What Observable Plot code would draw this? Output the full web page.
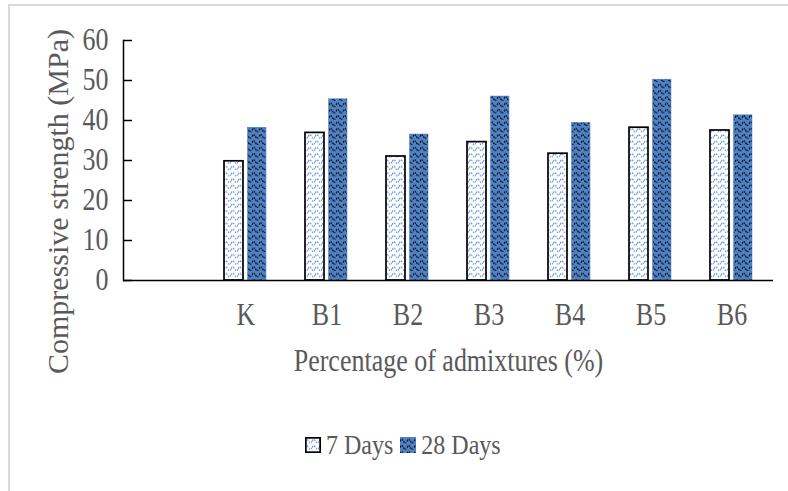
<!DOCTYPE html>
<html><head><meta charset="utf-8">
<script src="https://cdn.jsdelivr.net/npm/d3@7"></script>
<script src="https://cdn.jsdelivr.net/npm/@observablehq/plot@0.6"></script>
<style>
html,body{margin:0;padding:0;background:#fff;}
#wrap{position:relative;width:788px;height:491px;overflow:hidden;font-family:"Liberation Serif",serif;color:#595959;}
#bl{position:absolute;left:8px;top:4px;width:2px;bottom:0;background:#d9d9d9;}
#bt{position:absolute;left:8px;top:4px;height:2px;right:0;background:#d9d9d9;}
#chart{position:absolute;left:0;top:0;}
#legend{position:absolute;left:305px;top:431px;display:flex;align-items:center;font-size:24px;white-space:nowrap;line-height:28px;}
#legend svg{margin-right:5px;}
#legend span{margin-right:7px;display:inline-block;transform:scaleY(1.15);}
</style></head>
<body>
<svg width="0" height="0" style="position:absolute"><defs>
<pattern id="p7" patternUnits="userSpaceOnUse" width="7" height="6.3"><rect width="7" height="6.3" fill="#fff"/><path d="M0,4.2 Q1.75,0.8 3.5,4.2 T7,4.2" fill="none" stroke="#5b8bd0" stroke-width="1.1" stroke-dasharray="1.8 1"/></pattern>
<pattern id="p28" patternUnits="userSpaceOnUse" width="7" height="6.3"><rect width="7" height="6.3" fill="#4f81c4"/><path d="M0,4.2 Q1.75,0.8 3.5,4.2 T7,4.2" fill="none" stroke="#000" stroke-width="1.2" stroke-dasharray="1.5 0.9"/></pattern>
</defs></svg>
<div id="wrap"><div id="bl"></div><div id="bt"></div><div id="chart"></div><div id="legend"></div></div>
<script>
const categories = ["K", "B1", "B2", "B3", "B4", "B5", "B6"];
const days7 = [29.8, 36.9, 31.0, 34.6, 31.7, 38.2, 37.5];
const days28 = [38.2, 45.3, 36.5, 46.0, 39.4, 50.2, 41.3];
const yTicks = [0, 10, 20, 30, 40, 50, 60];
const seriesNames = ["7 Days", "28 Days"];
const seriesFill = ["url(#p7)", "url(#p28)"];

const rows7 = categories.map((c, i) => ({cat: c, v: days7[i]}));
const rows28 = categories.map((c, i) => ({cat: c, v: days28[i]}));
const textColor = "#595959";

const chart = Plot.plot({
  width: 788, height: 410,
  marginLeft: 123, marginRight: 15, marginTop: 40, marginBottom: 130,
  style: {fontFamily: "Liberation Serif", background: "transparent", overflow: "visible"},
  x: {domain: ["", ...categories], padding: 0},
  y: {domain: [0, 60]},
  marks: [
    Plot.barY(rows7, {x: "cat", y: "v", fill: seriesFill[0], stroke: "black", strokeWidth: 1.7, insetLeft: 19, insetRight: 43}),
    Plot.barY(rows28, {x: "cat", y: "v", fill: seriesFill[1], stroke: "#4f81c4", strokeWidth: 0.5, insetLeft: 42.5, insetRight: 20}),
    Plot.ruleY([0], {stroke: "black", strokeWidth: 1.5}),
    Plot.frame({anchor: "left", stroke: "black", strokeWidth: 1.5}),
    Plot.axisY(yTicks, {tickSize: -9, tickPadding: 24, stroke: "black", strokeWidth: 1.5, fill: textColor, fontSize: 26, label: null}),
    Plot.axisX({tickSize: 0, tickPadding: 24, fill: textColor, fontSize: 26, label: null}),
    Plot.text(["Compressive strength (MPa)"], {frameAnchor: "left", textAnchor: "middle", rotate: -90, dx: -65, dy: 41, fontSize: 30, fill: textColor}),
    Plot.text(["Percentage of admixtures (%)"], {frameAnchor: "bottom", dy: 89, fontSize: 26, fill: textColor})
  ]
});
document.getElementById("chart").appendChild(chart);

// stretch horizontal texts vertically about their own centre, as in the reference rendering
const NS = "http://www.w3.org/2000/svg";
const pt = chart.createSVGPoint();
Array.from(chart.querySelectorAll("text")).forEach(t => {
  if ((t.getAttribute("transform") || "").includes("rotate")) return;
  const r = t.getBoundingClientRect();
  if (!r.width) return;
  pt.x = r.x + r.width / 2; pt.y = r.y + r.height / 2;
  const p = pt.matrixTransform(t.parentNode.getScreenCTM().inverse());
  const g = document.createElementNS(NS, "g");
  g.setAttribute("transform", `translate(${p.x},${p.y}) scale(1,1.18) translate(${-p.x},${-p.y})`);
  t.parentNode.insertBefore(g, t);
  g.appendChild(t);
});

const legend = document.getElementById("legend");
seriesNames.forEach((name, i) => {
  const sw = i === 0
    ? `<svg width="16" height="16"><rect x="0.85" y="0.85" width="14.3" height="14.3" fill="${seriesFill[i]}" stroke="black" stroke-width="1.7"/></svg>`
    : `<svg width="16" height="16"><rect x="0" y="0" width="16" height="16" fill="${seriesFill[i]}"/></svg>`;
  legend.insertAdjacentHTML("beforeend", sw + `<span>${name}</span>`);
});
</script>
</body></html>
